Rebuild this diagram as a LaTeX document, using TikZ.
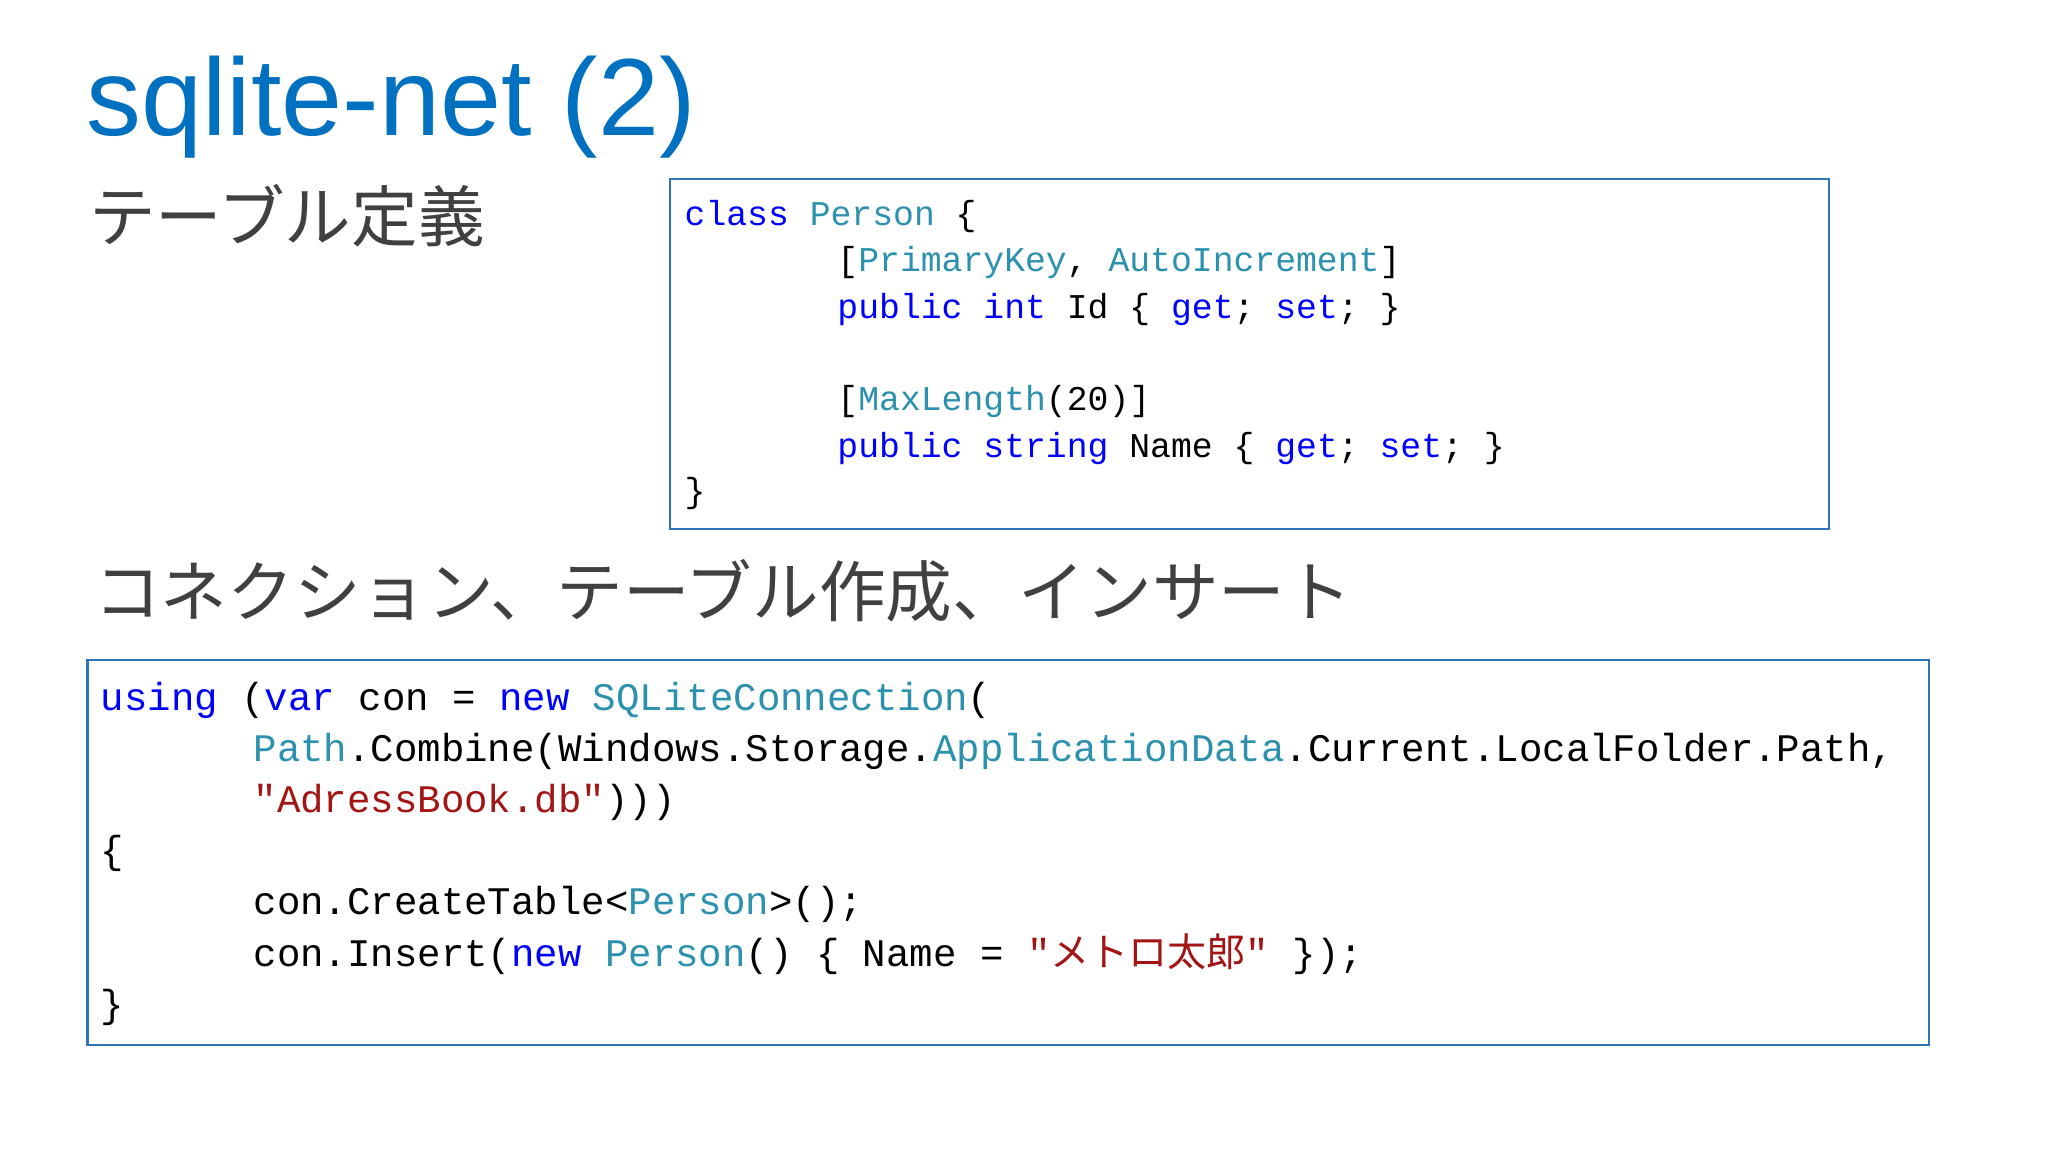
\documentclass[tikz,border=0pt]{standalone}
\usepackage{fontspec}
\setmainfont{Liberation Sans}
\newfontfamily\cjk{Noto Sans CJK JP}
\newfontfamily\codefont{Liberation Mono}
\definecolor{titleblue}{RGB}{0,112,192}
\definecolor{boxblue}{RGB}{46,117,182}
\definecolor{kwc}{RGB}{0,0,255}
\definecolor{tyc}{RGB}{43,145,175}
\definecolor{stc}{RGB}{163,21,21}
\definecolor{headgray}{RGB}{64,64,64}
\newcommand{\cKw}[1]{\textcolor{kwc}{#1}}
\newcommand{\cTy}[1]{\textcolor{tyc}{#1}}
\newcommand{\cSt}[1]{\textcolor{stc}{#1}}
\tikzset{
  codeA/.style={anchor=base west,inner sep=0pt,font=\codefont\fontsize{26.6}{30}\selectfont},
  codeB/.style={anchor=base west,inner sep=0pt,font=\codefont\fontsize{29.9}{34}\selectfont},
  codebox/.style={draw=boxblue,line width=1.6pt},
  heading/.style={anchor=base west,inner sep=0pt,text=headgray,font=\cjk\fontsize{51}{55}\selectfont}
}
\begin{document}
\begin{tikzpicture}[x=1pt,y=-1pt]
\useasboundingbox (0,0) rectangle (1568,882);
\fill[white] (0,0) rectangle (1568,882);
\node[anchor=base west,inner sep=0pt,text=titleblue,font=\fontsize{84}{90}\selectfont] (title) at (66,104) {sqlite-net (2)};
\node[heading] (h1) at (68,185) {テーブル定義};
\node[heading] (h2) at (72,472) {コネクション、テーブル作成、インサート};
\draw[codebox] (513,137) rectangle (1400,405);
\draw[codebox] (67,505) rectangle (1477,800);
% box 1
\node[codeA] (a1) at (524,173) {\cKw{class} \cTy{Person} \{};
\node[codeA] (a2) at (641,208) {[\cTy{PrimaryKey}, \cTy{AutoIncrement}]};
\node[codeA] (a3) at (641,244) {\cKw{public} \cKw{int} Id \{ \cKw{get}; \cKw{set}; \}};
\node[codeA] (a4) at (641,314) {[\cTy{MaxLength}(20)]};
\node[codeA] (a5) at (641,350) {\cKw{public} \cKw{string} Name \{ \cKw{get}; \cKw{set}; \}};
\node[codeA] (a6) at (524,385) {\}};
% box 2
\node[codeB] (b1) at (77,544) {\cKw{using} (\cKw{var} con = \cKw{new} \cTy{SQLiteConnection}(};
\node[codeB] (b2) at (194,583) {\cTy{Path}.Combine(Windows.Storage.\cTy{ApplicationData}.Current.LocalFolder.Path,};
\node[codeB] (b3) at (194,622) {\cSt{"AdressBook.db"})))};
\node[codeB] (b4) at (77,661) {\{};
\node[codeB] (b5) at (194,700) {con.CreateTable<\cTy{Person}>();};
\node[codeB] (b6) at (194,740) {con.Insert(\cKw{new} \cTy{Person}() \{ Name = \cSt{"{\cjk メトロ太郎}"} \});};
\node[codeB] (b7) at (77,779) {\}};
\end{tikzpicture}
\end{document}
